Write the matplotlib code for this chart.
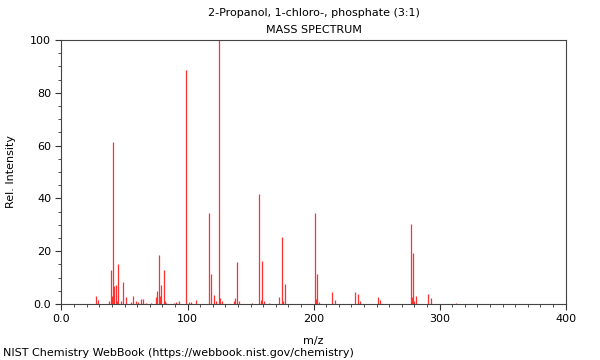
import numpy as np
import matplotlib
matplotlib.use('Agg')
import matplotlib.pyplot as plt
from matplotlib.ticker import MultipleLocator

# peak positions (m/z) and relative intensities
mz = [27, 29, 38, 39, 40, 41, 42, 43, 44, 45, 47, 49, 51, 55, 57, 59, 61, 63,
      65, 67, 71, 75, 76, 77, 78, 79, 81, 82, 83, 89, 91, 93, 99, 101, 103,
      107, 117, 119, 121, 123, 125, 126, 127, 137, 138, 139, 141, 151, 157,
      158, 159, 161, 165, 173, 175, 176, 177, 201, 202, 203, 204, 215, 217,
      233, 235, 237, 251, 253, 277, 278, 279, 280, 281, 291, 293, 313]
intensity = [3.0, 1.5, 1.0, 13.0, 3.0, 61.3, 7.0, 7.2, 1.0, 15.0, 1.0, 8.5,
             2.8, 0.8, 3.0, 1.0, 0.8, 1.8, 1.8, 0.5, 0.5, 2.5, 5.0, 18.7, 3.0,
             7.3, 12.7, 1.0, 0.5, 0.5, 0.8, 1.0, 88.6, 0.8, 0.8, 1.6, 34.6,
             11.3, 3.5, 1.0, 100.0, 2.4, 1.2, 1.3, 2.2, 16.0, 1.0, 0.5, 41.5,
             1.4, 16.3, 1.0, 0.5, 2.6, 25.4, 1.0, 7.4, 34.3, 2.0, 11.2, 0.6,
             4.7, 1.6, 4.7, 3.6, 1.0, 2.8, 1.6, 30.2, 2.8, 19.5, 1.3, 3.2,
             3.6, 2.3, 0.2]

x_ticks = [0, 100, 200, 300, 400]
x_labels = ['0.0', '100', '200', '300', '400']
y_ticks = [0, 20, 40, 60, 80, 100]
y_labels = ['0.0', '20', '40', '60', '80', '100']

fig = plt.figure(figsize=(6, 3.6), dpi=100)
ax = fig.add_axes([61.5 / 600, 56 / 360, 504 / 600, 264 / 360])

ax.vlines(mz, 0, intensity, color='#ff3030', linewidth=0.9)

ax.set_xlim(0, 400)
ax.set_ylim(0, 100)
ax.set_xticks(x_ticks)
ax.set_xticklabels(x_labels)
ax.set_yticks(y_ticks)
ax.set_yticklabels(y_labels)
ax.xaxis.set_minor_locator(MultipleLocator(10))
ax.yaxis.set_minor_locator(MultipleLocator(5))
ax.tick_params(which='both', direction='out', labelsize=8, colors='#333333',
               labelcolor='black')
ax.tick_params(which='major', length=4)
ax.tick_params(which='minor', length=2)
for sp in ax.spines.values():
    sp.set_color('#444444')
    sp.set_linewidth(0.8)

ax.set_xlabel('m/z', fontsize=8, labelpad=8)
ax.set_ylabel('Rel. Intensity', fontsize=8, labelpad=10)

fig.text(314 / 600, 1 - 13 / 360, '2-Propanol, 1-chloro-, phosphate (3:1)',
         ha='center', va='center', fontsize=8)
fig.text(314 / 600, 1 - 30 / 360, 'MASS SPECTRUM',
         ha='center', va='center', fontsize=8)
fig.text(3 / 600, 1 - 353 / 360,
         'NIST Chemistry WebBook (https://webbook.nist.gov/chemistry)',
         ha='left', va='center', fontsize=8)

fig.savefig('out.png', dpi=100)
